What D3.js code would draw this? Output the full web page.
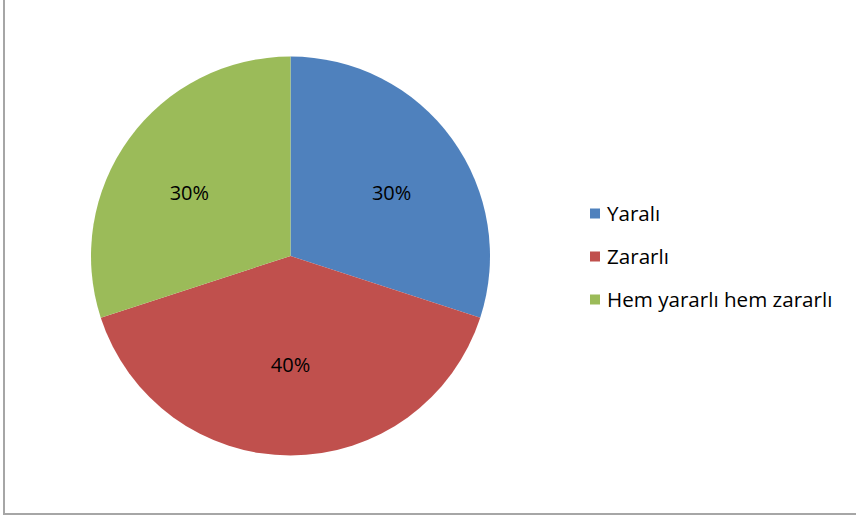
<!DOCTYPE html>
<html>
<head>
<meta charset="utf-8">
<script src="https://cdn.jsdelivr.net/npm/d3@7"></script>
<style>
html,body{margin:0;padding:0;background:#fff;}
svg{display:block;}
</style>
</head>
<body>
<svg id="chart" width="856" height="519"></svg>
<script>
const categories = ["Yaralı", "Zararlı", "Hem yararlı hem zararlı"];
const values = [30, 40, 30];
const labels = ["30%", "40%", "30%"];
const colors = ["#4F81BD", "#C0504D", "#9BBB59"];

const svg = d3.select("#chart");
const W = 856, H = 519;
const font = "'Open Sans', 'Liberation Sans', sans-serif";

// frame (left and bottom edges visible)
svg.append("line").attr("x1", 4).attr("y1", 0).attr("x2", 4).attr("y2", 514)
  .attr("stroke", "#a6a6a6").attr("stroke-width", 2);
svg.append("line").attr("x1", 3).attr("y1", 514).attr("x2", W).attr("y2", 514)
  .attr("stroke", "#a6a6a6").attr("stroke-width", 2);

const cx = 290.5, cy = 256, r = 199.5;
const pie = d3.pie().sort(null).value(d => d);
const arcs = pie(values);
const arc = d3.arc().innerRadius(0).outerRadius(r);
// label positions on an ellipse inside the pie
const lx = 125, ly = 108;
const labelPos = d => {
  const a = (d.startAngle + d.endAngle) / 2;
  return [lx * Math.sin(a), -ly * Math.cos(a)];
};

const g = svg.append("g").attr("transform", `translate(${cx},${cy})`);
g.selectAll("path").data(arcs).join("path")
  .attr("d", arc)
  .attr("fill", (d, i) => colors[i]);

g.selectAll("text").data(arcs).join("text")
  .attr("transform", d => `translate(${labelPos(d)})`)
  .attr("text-anchor", "middle")
  .attr("dominant-baseline", "central")
  .attr("font-family", font)
  .attr("font-size", 20)
  .attr("fill", "#000")
  .text((d, i) => labels[i]);

// legend
const legend = svg.append("g");
const ly0 = 213, lstep = 43;
categories.forEach((c, i) => {
  const y = ly0 + i * lstep;
  legend.append("rect").attr("x", 590).attr("y", y - 4.5).attr("width", 10).attr("height", 10)
    .attr("fill", colors[i]);
  legend.append("text").attr("x", 607).attr("y", y)
    .attr("dominant-baseline", "central")
    .attr("font-family", font).attr("font-size", 20.6).attr("fill", "#000")
    .text(c);
});
</script>
</body>
</html>
